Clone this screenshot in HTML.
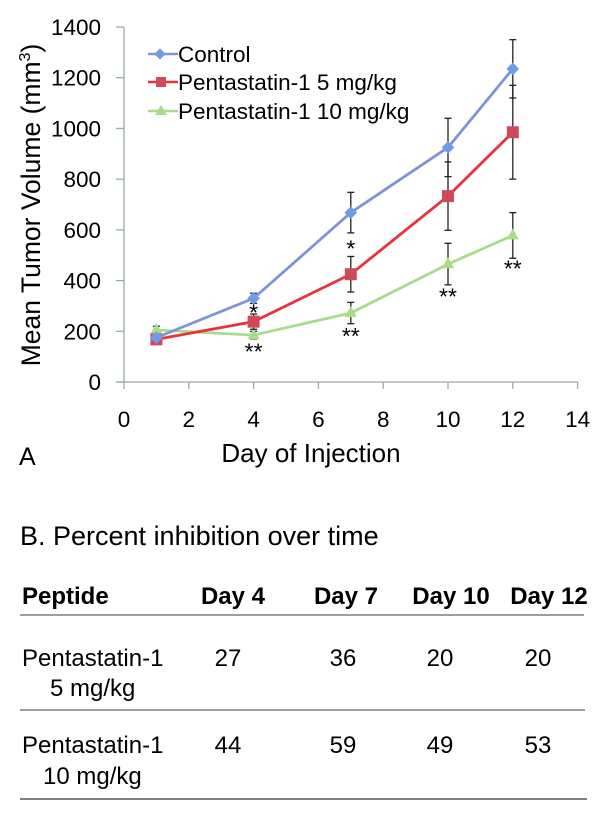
<!DOCTYPE html>
<html><head><meta charset="utf-8"><style>
body{margin:0;background:#fff;width:600px;height:831px;overflow:hidden;font-family:"Liberation Sans",Arial,sans-serif}
svg{position:absolute;left:0;top:0}
</style></head><body>
<svg width="600" height="831" font-family="Liberation Sans, Arial, sans-serif">
<g id="chart"></g>
<text x="19" y="465" font-size="25">A</text>
<text x="311" y="462" font-size="26" text-anchor="middle">Day of Injection</text>
<text transform="translate(40,205) rotate(-90)" font-size="26.5" text-anchor="middle">Mean Tumor Volume (mm<tspan font-size="16" dy="-10">3</tspan><tspan dy="10">)</tspan></text>
<g font-size="22.5">
<g><line x1="148" y1="54" x2="178" y2="54" stroke="#7d95d6" stroke-width="2.5"/><rect x="156" y="50" width="8" height="8" fill="#6f9be8" transform="rotate(45 160 54)"/><text x="178" y="62">Control</text></g>
<g><line x1="148" y1="82" x2="178" y2="82" stroke="#e8333a" stroke-width="2.5"/><rect x="156" y="77" width="10" height="10" fill="#cf4a58"/><text x="178" y="90">Pentastatin-1 5 mg/kg</text></g>
<g><line x1="148" y1="111" x2="178" y2="111" stroke="#a6dc8a" stroke-width="2.5"/><polygon points="161,105 167,115 155,115" fill="#a6dc8a"/><text x="178" y="119">Pentastatin-1 10 mg/kg</text></g>
</g>
<text x="20" y="545" font-size="27">B. Percent inhibition over time</text>
<g font-size="24">
<g font-weight="bold">
<text x="22" y="604">Peptide</text>
<text x="233" y="604" text-anchor="middle">Day 4</text>
<text x="346" y="604" text-anchor="middle">Day 7</text>
<text x="451" y="604" text-anchor="middle">Day 10</text>
<text x="549" y="604" text-anchor="middle">Day 12</text>
</g>
<line x1="20" y1="615" x2="584" y2="615" stroke="#666" stroke-width="1.3"/>
<g>
<text x="22" y="666">Pentastatin-1</text><text x="50" y="696">5 mg/kg</text>
<text x="228" y="666" text-anchor="middle">27</text><text x="343" y="666" text-anchor="middle">36</text><text x="440" y="666" text-anchor="middle">20</text><text x="538" y="666" text-anchor="middle">20</text>
</g>
<line x1="20" y1="710" x2="585" y2="710" stroke="#666" stroke-width="1.3"/>
<g>
<text x="22" y="753">Pentastatin-1</text><text x="43" y="784">10 mg/kg</text>
<text x="228" y="753" text-anchor="middle">44</text><text x="343" y="753" text-anchor="middle">59</text><text x="440" y="753" text-anchor="middle">49</text><text x="538" y="753" text-anchor="middle">53</text>
</g>
<line x1="20" y1="799" x2="587" y2="799" stroke="#333" stroke-width="1.3"/>
</g>
</svg>
<script>
const days=[1,4,7,10,12];
const control=[175,330,668,925,1235];
const controlErr=[0,20,80,115,115];
const dose5=[168,238,425,733,985];
const dose5Err=[0,30,70,135,185];
const dose10=[205,185,272,465,578];
const dose10Err=[15,15,42,82,90];
const xTicks=[0,2,4,6,8,10,12,14];
const yTicks=[0,200,400,600,800,1000,1200,1400];
const starDays=[4,4,7,7,10,12];
const starVals=[282,128,535,190,345,455];
const starLabels=["*","**","*","**","**","**"];
const X=v=>124+v*32.4;
const Y=v=>382-v*(355/1400);
const ns="http://www.w3.org/2000/svg";
const g=document.getElementById('chart');
function mk(t,a,p){const e=document.createElementNS(ns,t);for(const k in a)e.setAttribute(k,a[k]);(p||g).appendChild(e);return e;}
let e=mk('line',{x1:X(0),y1:Y(0),x2:X(0),y2:Y(1400),stroke:'#9aa','stroke-width':1.3});


e=mk('line',{x1:X(0)-8,y1:Y(0),x2:X(14),y2:Y(0),stroke:'#9aa','stroke-width':1.3});


yTicks.forEach(t=>{mk('line',{x1:X(0)-8,x2:X(0),y1:Y(t),y2:Y(t),stroke:'#9aa','stroke-width':1.3});
const tx=mk('text',{x:101,y:Y(t)+8,'text-anchor':'end','font-size':22.5});tx.textContent=t;

});
xTicks.forEach(t=>{mk('line',{x1:X(t),x2:X(t),y1:Y(0),y2:Y(0)+7,stroke:'#9aa','stroke-width':1.3});
const tx=mk('text',{x:X(t),y:427,'text-anchor':'middle','font-size':22.5});tx.textContent=t;

});
function series(name,vals,errs,color,fill,shape){
const sg=mk('g',{});


vals.forEach((v,i)=>{if(errs[i]>0){const x=X(days[i]);
mk('line',{x1:x,x2:x,y1:Y(v-errs[i]),y2:Y(v+errs[i]),stroke:'#222','stroke-width':1.3},sg);
[v-errs[i],v+errs[i]].forEach(w=>mk('line',{x1:x-3.5,x2:x+3.5,y1:Y(w),y2:Y(w),stroke:'#222','stroke-width':1.3},sg));}});
mk('polyline',{points:vals.map((v,i)=>X(days[i])+','+Y(v)).join(' '),fill:'none',stroke:color,'stroke-width':2.8},sg);
vals.forEach((v,i)=>{const x=X(days[i]),y=Y(v);let m;
if(shape==='d')m=mk('rect',{x:x-4.5,y:y-4.5,width:9,height:9,fill:fill,transform:`rotate(45 ${x} ${y})`},sg);
else if(shape==='s')m=mk('rect',{x:x-6,y:y-6,width:12,height:12,fill:fill},sg);
else m=mk('polygon',{points:`${x},${y-7} ${x+6},${y+4} ${x-6},${y+4}`,fill:fill},sg);

});}
series('series-10mg',dose10,dose10Err,'#a6dc8a','#a6dc8a','t');
series('series-5mg',dose5,dose5Err,'#e8333a','#cf4a58','s');
series('series-control',control,controlErr,'#7d95d6','#6f9be8','d');
starDays.forEach((d,i)=>{const t=mk('text',{x:X(d),y:Y(starVals[i])+10,'text-anchor':'middle','font-size':23});t.textContent=starLabels[i];

});
</script>
</body></html>
